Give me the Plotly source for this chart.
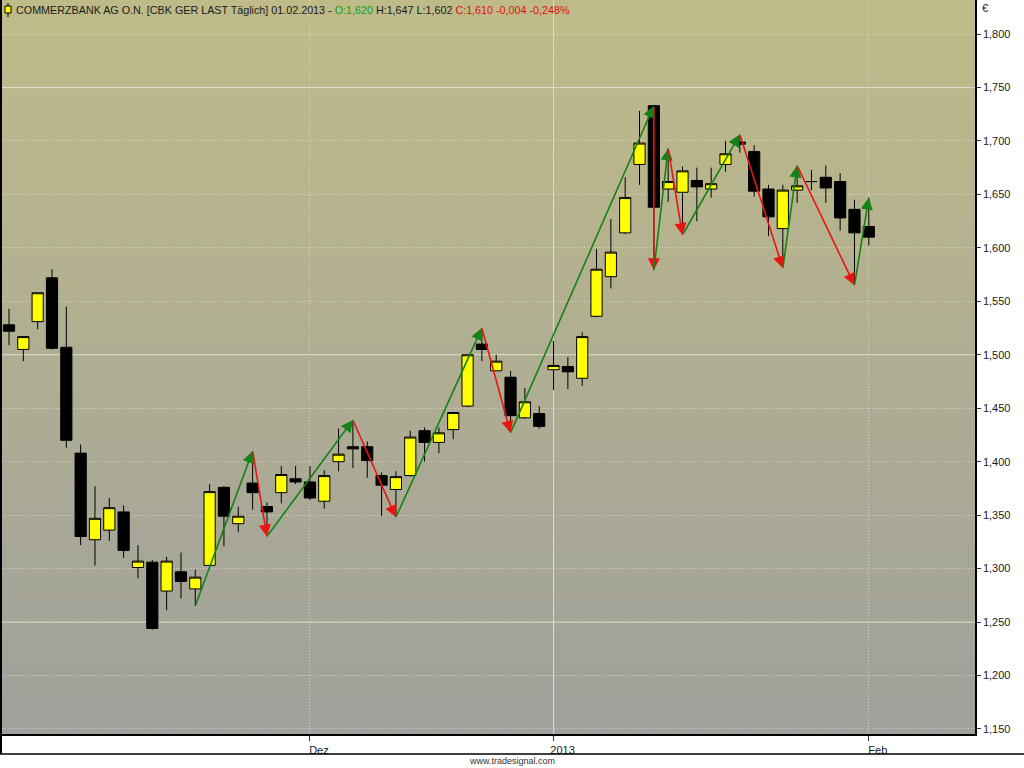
import plotly.graph_objects as go

# data
dates = [
    "2012-11-02", "2012-11-05", "2012-11-06", "2012-11-07", "2012-11-08", "2012-11-09",
    "2012-11-12", "2012-11-13", "2012-11-14", "2012-11-15", "2012-11-16",
    "2012-11-19", "2012-11-20", "2012-11-21", "2012-11-22", "2012-11-23",
    "2012-11-26", "2012-11-27", "2012-11-28", "2012-11-29", "2012-11-30",
    "2012-12-03", "2012-12-04", "2012-12-05", "2012-12-06", "2012-12-07",
    "2012-12-10", "2012-12-11", "2012-12-12", "2012-12-13", "2012-12-14",
    "2012-12-17", "2012-12-18", "2012-12-19", "2012-12-20", "2012-12-21",
    "2012-12-27", "2012-12-28",
    "2013-01-02", "2013-01-03", "2013-01-04",
    "2013-01-07", "2013-01-08", "2013-01-09", "2013-01-10", "2013-01-11",
    "2013-01-14", "2013-01-15", "2013-01-16", "2013-01-17", "2013-01-18",
    "2013-01-21", "2013-01-22", "2013-01-23", "2013-01-24", "2013-01-25",
    "2013-01-28", "2013-01-29", "2013-01-30", "2013-01-31",
    "2013-02-01",
]
opens = [1.528, 1.505, 1.531, 1.572, 1.507, 1.408, 1.327, 1.336, 1.353, 1.301,
         1.306, 1.279, 1.297, 1.281, 1.303, 1.376, 1.342, 1.380, 1.358, 1.371,
         1.384, 1.381, 1.363, 1.400, 1.414, 1.414, 1.387, 1.374, 1.387, 1.429,
         1.418, 1.430, 1.452, 1.510, 1.485, 1.479, 1.441, 1.445, 1.486, 1.489,
         1.478, 1.536, 1.573, 1.614, 1.678, 1.733, 1.655, 1.652, 1.663, 1.655,
         1.678, 1.699, 1.690, 1.655, 1.618, 1.654, 1.662, 1.666, 1.662, 1.636,
         1.620]
highs = [1.543, 1.517, 1.558, 1.580, 1.545, 1.416, 1.377, 1.366, 1.359, 1.322,
         1.308, 1.311, 1.315, 1.299, 1.379, 1.377, 1.358, 1.410, 1.362, 1.396,
         1.396, 1.396, 1.392, 1.431, 1.439, 1.419, 1.390, 1.391, 1.429, 1.432,
         1.432, 1.446, 1.500, 1.525, 1.500, 1.485, 1.469, 1.452, 1.513, 1.498,
         1.521, 1.599, 1.627, 1.666, 1.728, 1.733, 1.693, 1.676, 1.675, 1.675,
         1.700, 1.706, 1.696, 1.659, 1.659, 1.677, 1.673, 1.677, 1.670, 1.645,
         1.647]
lows = [1.509, 1.494, 1.524, 1.505, 1.413, 1.322, 1.303, 1.326, 1.310, 1.291,
        1.243, 1.261, 1.272, 1.265, 1.302, 1.321, 1.334, 1.355, 1.330, 1.361,
        1.379, 1.364, 1.356, 1.391, 1.394, 1.385, 1.349, 1.348, 1.386, 1.400,
        1.408, 1.421, 1.451, 1.494, 1.485, 1.427, 1.440, 1.431, 1.467, 1.468,
        1.471, 1.535, 1.562, 1.613, 1.659, 1.579, 1.643, 1.612, 1.625, 1.647,
        1.671, 1.689, 1.648, 1.611, 1.581, 1.642, 1.654, 1.642, 1.616, 1.565,
        1.602]
closes = [1.522, 1.517, 1.558, 1.506, 1.420, 1.330, 1.347, 1.357, 1.317, 1.307,
          1.244, 1.307, 1.288, 1.292, 1.372, 1.349, 1.349, 1.371, 1.353, 1.388,
          1.381, 1.366, 1.387, 1.407, 1.412, 1.401, 1.378, 1.386, 1.423, 1.418,
          1.427, 1.446, 1.500, 1.505, 1.494, 1.443, 1.456, 1.433, 1.490, 1.484,
          1.517, 1.580, 1.596, 1.647, 1.698, 1.638, 1.662, 1.672, 1.657, 1.660,
          1.688, 1.697, 1.653, 1.629, 1.654, 1.658, 1.662, 1.656, 1.628, 1.614,
          1.610]

# zigzag pivots
zz_dates = ["2012-11-21", "2012-11-27", "2012-11-28", "2012-12-06", "2012-12-11",
            "2012-12-19", "2012-12-21", "2013-01-11", "2013-01-11", "2013-01-14",
            "2013-01-15", "2013-01-21", "2013-01-24", "2013-01-25", "2013-01-31",
            "2013-02-01"]
zz_prices = [1.265, 1.410, 1.330, 1.439, 1.348, 1.525, 1.427, 1.733, 1.579, 1.693,
             1.612, 1.706, 1.581, 1.677, 1.565, 1.647]

tick_dates = ["2012-12-03", "2013-01-02", "2013-02-01"]
tick_text = ["Dez", "2013", "Feb"]
major_levels = [1.25, 1.50, 1.75]

# layout geometry (pixels)
W, H = 1024, 768
L, R, T, B = 2, 49, 0, 34
PW, PH = W - L - R, H - T - B


def px(x):
    return (x - L) / PW


def py(y):
    return (H - B - y) / PH


xpos = list(range(len(dates)))

fig = go.Figure()

fig.add_trace(go.Candlestick(
    x=xpos, open=opens, high=highs, low=lows, close=closes,
    increasing=dict(fillcolor="#ffff00", line=dict(color="black", width=1)),
    decreasing=dict(fillcolor="black", line=dict(color="black", width=1)),
    whiskerwidth=0, showlegend=False, hoverinfo="skip",
))

# background gradient (olive at top -> grey at bottom)
top_c, bot_c = (191, 187, 137), (160, 160, 156)
n = 60
shapes = []
for k in range(n):
    f = (k + 0.5) / n
    c = tuple(int(round(top_c[j] + (bot_c[j] - top_c[j]) * f)) for j in range(3))
    shapes.append(dict(type="rect", xref="paper", yref="paper",
                       x0=0, x1=1, y0=1 - (k + 1) / n - 0.002, y1=1 - k / n,
                       fillcolor="rgb(%d,%d,%d)" % c, line=dict(width=0),
                       layer="below"))

# solid grid lines
for lv in major_levels:
    shapes.append(dict(type="line", xref="paper", yref="y", x0=0, x1=1, y0=lv, y1=lv,
                       line=dict(color="rgba(222,222,205,0.9)", width=1), layer="between"))
x2013 = dates.index("2013-01-02")
shapes.append(dict(type="line", xref="x", yref="paper", x0=x2013, x1=x2013, y0=0, y1=1,
                   line=dict(color="rgba(210,228,220,0.9)", width=1), layer="between"))

# bottom strip frame
shapes.append(dict(type="line", xref="paper", yref="paper", x0=px(0), x1=px(W),
                   y0=py(754), y1=py(754), line=dict(color="black", width=1.5)))
shapes.append(dict(type="line", xref="paper", yref="paper", x0=px(1), x1=px(1),
                   y0=py(734), y1=py(754), line=dict(color="black", width=2)))

# title icon
shapes.append(dict(type="line", xref="paper", yref="paper", x0=px(8), x1=px(8),
                   y0=py(3), y1=py(17), line=dict(color="black", width=1)))
shapes.append(dict(type="rect", xref="paper", yref="paper", x0=px(5), x1=px(11),
                   y0=py(13), y1=py(6), fillcolor="#ffff00",
                   line=dict(color="black", width=1)))

# zigzag arrows
annotations = []
for k in range(1, len(zz_dates)):
    x0, y0 = dates.index(zz_dates[k - 1]), zz_prices[k - 1]
    x1, y1 = dates.index(zz_dates[k]), zz_prices[k]
    col = "rgb(20,130,20)" if y1 > y0 else "rgb(235,20,20)"
    annotations.append(dict(x=x1, y=y1, ax=x0, ay=y0, xref="x", yref="y",
                            axref="x", ayref="y", text="", showarrow=True,
                            arrowhead=2, arrowsize=1.5, arrowwidth=1.6,
                            arrowcolor=col, standoff=0, startstandoff=0))

title = ("COMMERZBANK AG O.N. [CBK GER LAST Täglich] 01.02.2013 - "
         "<span style='color:#10a010'>O:1,620</span> H:1,647 L:1,602 "
         "<span style='color:#e01010'>C:1,610 -0,004 -0,248%</span>")
annotations.append(dict(x=px(14), y=py(10), xref="paper", yref="paper",
                        xanchor="left", yanchor="middle", showarrow=False, text=title,
                        font=dict(family="Liberation Sans", size=10.75, color="#1a1a1a")))
annotations.append(dict(x=px(980), y=py(8), xref="paper", yref="paper",
                        xanchor="left", yanchor="middle", showarrow=False, text="€",
                        font=dict(family="Liberation Sans", size=11, color="#1a1a1a")))
annotations.append(dict(x=px(512), y=py(761), xref="paper", yref="paper",
                        xanchor="center", yanchor="middle", showarrow=False,
                        text="www.tradesignal.com",
                        font=dict(family="Liberation Sans", size=9, color="#333")))

spacing = 14.33
fig.update_layout(
    width=W, height=H,
    margin=dict(l=L, r=R, t=T, b=B, pad=0),
    paper_bgcolor="white", plot_bgcolor="rgb(176,174,146)",
    separators=",.",
    boxgap=0.22, boxgroupgap=0,
    shapes=shapes, annotations=annotations,
    font=dict(family="Liberation Sans", size=11, color="#1a1a1a"),
    xaxis=dict(
        range=[(L - 9) / spacing, (W - R - 9) / spacing],
        tickmode="array", tickvals=[dates.index(d) for d in tick_dates],
        ticktext=tick_text, ticks="outside", ticklen=5, tickcolor="#333",
        ticklabelshift=9,
        showgrid=True, gridcolor="rgba(228,228,215,0.75)", griddash="1px,2px",
        showline=True, linecolor="black", linewidth=1.5, mirror=False,
        zeroline=False, rangeslider=dict(visible=False), fixedrange=True,
    ),
    yaxis=dict(
        side="right", range=[1.1453, 1.8318], tick0=1.15, dtick=0.05,
        tickformat=".3f", ticks="outside", ticklen=4, tickcolor="#333",
        showgrid=True, gridcolor="rgba(228,228,215,0.75)", griddash="1px,2px",
        showline=True, linecolor="black", linewidth=1.5, mirror=True,
        zeroline=False, fixedrange=True,
    ),
)

fig.write_html("out.html", config={"displayModeBar": False},
               post_script="document.body.style.margin='0';")
